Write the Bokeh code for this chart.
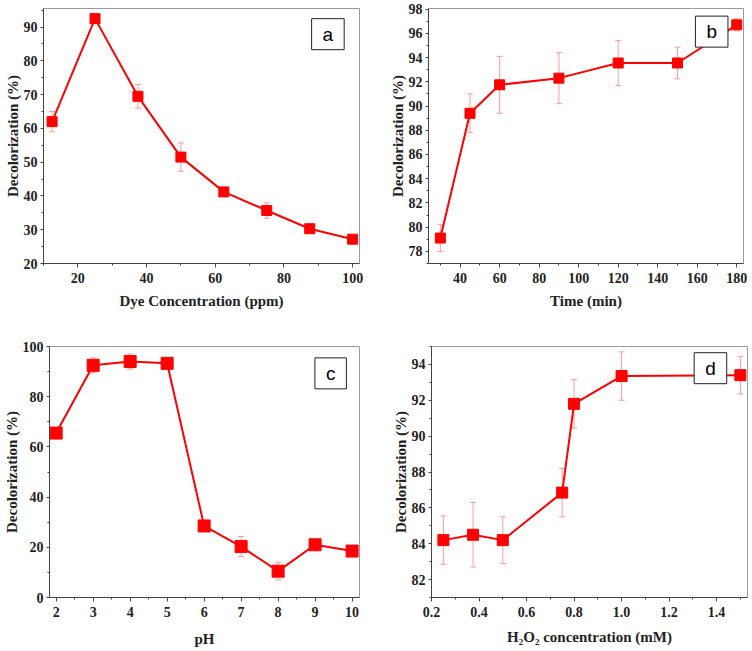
from bokeh.plotting import figure
from bokeh.layouts import column, row
from bokeh.models import (ColumnDataSource, Whisker, TeeHead, Label,
                          SingleIntervalTicker, PrintfTickFormatter)
from bokeh.embed import file_html
from bokeh.resources import INLINE

# ---- data ----
a_x = [12.5, 25, 37.5, 50, 62.5, 75, 87.5, 100]
a_y = [62.0, 92.5, 69.5, 51.5, 41.2, 35.7, 30.3, 27.2]
a_err = [3.0, 0.6, 3.5, 4.2, 0.6, 2.3, 0.6, 0.8]

b_x = [30, 45, 60, 90, 120, 150, 180]
b_y = [79.1, 89.4, 91.75, 92.3, 93.55, 93.55, 96.7]
b_err = [1.1, 1.6, 2.35, 2.1, 1.85, 1.3, 0.5]

c_x = [2, 3, 4, 5, 6, 7, 8, 9, 10]
c_y = [65.5, 92.5, 94.0, 93.3, 28.5, 20.3, 10.5, 21.0, 18.5]
c_err = [1.0, 3.0, 3.0, 1.0, 2.0, 4.0, 3.5, 1.5, 1.5]

d_x = [0.25, 0.375, 0.5, 0.75, 0.8, 1.0, 1.5]
d_y = [84.2, 84.5, 84.2, 86.85, 91.8, 93.35, 93.4]
d_err = [1.35, 1.8, 1.3, 1.35, 1.35, 1.35, 1.05]

Y_LABEL = "Decolorization (%)"
X_LABELS = ["Dye Concentration (ppm)", "Time (min)", "pH", "H\u2082O\u2082 concentration (mM)"]
PANEL_LETTERS = ["a", "b", "c", "d"]

RED = "#ff0000"
ERR = "#ff9a9a"
SERIF = "Liberation Serif"


def panel(xs, ys, errs, xlabel, letter, width, height, xr, yr, borders,
          xint, yint, msize, letter_pos, xfmt=None, xlab_standoff=7):
    p = figure(width=width, height=height, x_range=xr, y_range=yr,
               output_backend="svg", toolbar_location=None,
               min_border_left=borders[0], min_border_right=borders[1],
               min_border_top=borders[2], min_border_bottom=borders[3])
    p.xgrid.visible = False
    p.ygrid.visible = False
    p.outline_line_color = "#9a9a9a"
    p.outline_line_width = 1
    p.background_fill_color = "white"
    p.border_fill_color = "white"

    p.xaxis.ticker = SingleIntervalTicker(interval=xint, num_minor_ticks=2)
    p.yaxis.ticker = SingleIntervalTicker(interval=yint, num_minor_ticks=2)
    if xfmt:
        p.xaxis.formatter = PrintfTickFormatter(format=xfmt)

    for ax in list(p.xaxis) + list(p.yaxis):
        ax.axis_line_color = "#444444"
        ax.major_tick_line_color = "#444444"
        ax.minor_tick_line_color = "#444444"
        ax.major_tick_in = 0
        ax.major_tick_out = 4
        ax.minor_tick_in = 0
        ax.minor_tick_out = 2
        ax.major_label_text_font = SERIF
        ax.major_label_text_font_style = "bold"
        ax.major_label_text_font_size = "14px"
        ax.major_label_text_color = "#222222"
        ax.axis_label_text_font = SERIF
        ax.axis_label_text_font_style = "bold"
        ax.axis_label_text_color = "#222222"
        ax.axis_label_text_font_size = "15px"
    p.xaxis.axis_label = xlabel
    p.xaxis.major_label_standoff = 5
    p.xaxis.axis_label_standoff = xlab_standoff
    p.yaxis.axis_label = Y_LABEL
    p.yaxis.major_tick_out = 3
    p.yaxis.major_label_standoff = 3
    p.yaxis.axis_label_standoff = 0

    src = ColumnDataSource(dict(
        x=xs, y=ys,
        upper=[v + e for v, e in zip(ys, errs)],
        lower=[v - e for v, e in zip(ys, errs)]))
    w = Whisker(base="x", upper="upper", lower="lower", source=src,
                line_color=ERR, line_width=1,
                upper_head=TeeHead(size=6, line_color=ERR, line_width=1),
                lower_head=TeeHead(size=6, line_color=ERR, line_width=1))
    p.add_layout(w)
    p.line("x", "y", source=src, line_color=RED, line_width=2)
    p.scatter("x", "y", source=src, marker="square", size=msize,
              fill_color=RED, line_color=RED)

    lab = Label(x=letter_pos[0], y=letter_pos[1], text=letter,
                text_font="Liberation Sans", text_font_size="19px",
                text_align="center", text_baseline="middle",
                text_color="black",
                background_fill_color="white",
                border_line_color="#222222", border_line_width=1,
                padding=dict(left=11, right=11, top=5, bottom=5))
    p.add_layout(lab)
    return p


fa = panel(a_x, a_y, a_err, X_LABELS[0], PANEL_LETTERS[0], 376, 318,
           (10, 102), (20, 95.5), (43, 17, 8, 55), 20, 10, 10, (92.8, 87.9))
fb = panel(b_x, b_y, b_err, X_LABELS[1], PANEL_LETTERS[1], 374, 318,
           (24, 183.4), (77, 98.05), (52, 7, 8, 55), 20, 2, 10, (167.3, 96.14))
fc = panel(c_x, c_y, c_err, X_LABELS[2], PANEL_LETTERS[2], 376, 331,
           (1.82, 10.2), (0, 100), (48, 17, 28, 50), 1, 20, 12, (9.42, 89.3),
           xlab_standoff=11)
fd = panel(d_x, d_y, d_err, X_LABELS[3], PANEL_LETTERS[3], 374, 331,
           (0.2, 1.53), (81, 95), (55, 3, 22, 52), 0.2, 2, 11, (1.374, 93.79),
           xfmt="%.1f", xlab_standoff=9)

layout = column(row(fa, fb), row(fc, fd))
open("out.html", "w").write(file_html(layout, INLINE))
